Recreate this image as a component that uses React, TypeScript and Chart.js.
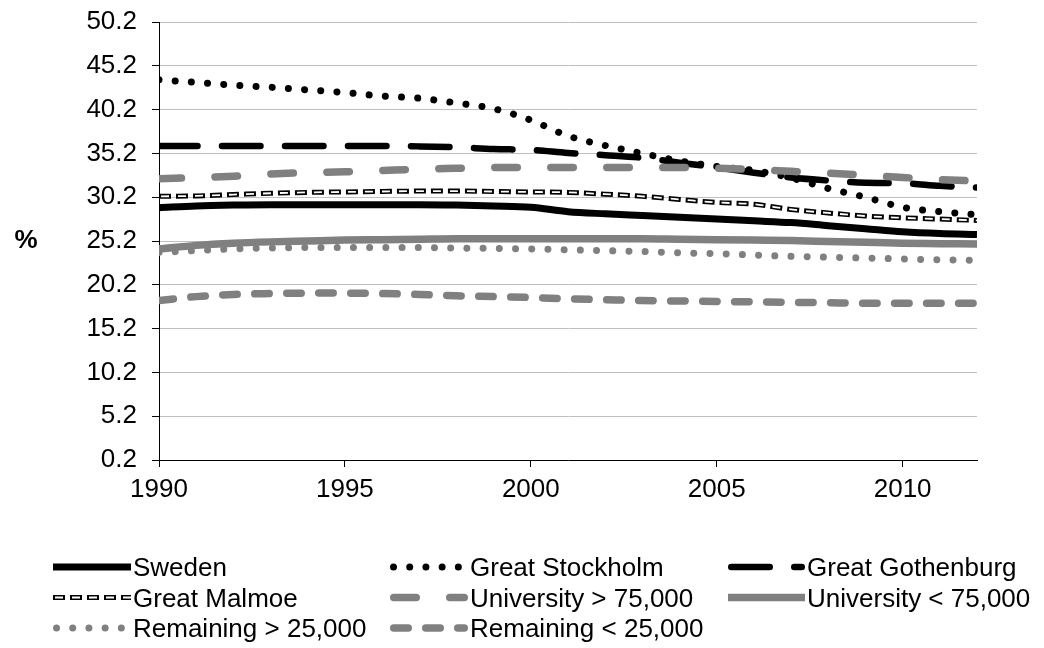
import React, { useEffect, useRef } from 'react';
import Chart from 'chart.js/auto';

const years = [1990, 1991, 1992, 1993, 1994, 1995, 1996, 1997, 1998, 1999, 2000, 2001, 2002, 2003, 2004, 2005, 2006, 2007, 2008, 2009, 2010, 2011, 2012];

const sweden = [29.0, 29.2, 29.3, 29.35, 29.35, 29.35, 29.35, 29.35, 29.3, 29.2, 29.05, 28.55, 28.3, 28.1, 27.9, 27.7, 27.5, 27.3, 26.95, 26.6, 26.25, 26.05, 25.95];
const stockholm = [43.6, 43.3, 43.0, 42.75, 42.45, 42.15, 41.75, 41.5, 40.95, 40.3, 39.0, 37.2, 36.1, 35.2, 34.35, 33.7, 33.25, 32.4, 31.2, 30.2, 29.05, 28.55, 28.2];
const gothenburg = [36.05, 36.05, 36.05, 36.05, 36.05, 36.05, 36.05, 36.0, 35.9, 35.7, 35.6, 35.25, 35.0, 34.7, 34.15, 33.6, 33.0, 32.45, 32.1, 31.85, 31.8, 31.5, 31.3];
const malmoe = [30.3, 30.35, 30.5, 30.65, 30.75, 30.8, 30.85, 30.9, 30.9, 30.85, 30.8, 30.75, 30.55, 30.3, 29.95, 29.6, 29.4, 28.8, 28.4, 28.05, 27.85, 27.7, 27.55];
const universityLarge = [32.3, 32.45, 32.6, 32.85, 33.0, 33.1, 33.25, 33.4, 33.5, 33.6, 33.6, 33.6, 33.6, 33.6, 33.6, 33.5, 33.35, 33.15, 32.95, 32.7, 32.45, 32.2, 32.05];
const universitySmall = [24.3, 24.7, 24.95, 25.1, 25.2, 25.3, 25.35, 25.4, 25.45, 25.45, 25.45, 25.45, 25.45, 25.45, 25.4, 25.35, 25.3, 25.25, 25.15, 25.05, 24.95, 24.9, 24.85];
const remainingLarge = [23.9, 24.1, 24.3, 24.4, 24.45, 24.45, 24.45, 24.45, 24.4, 24.35, 24.3, 24.2, 24.1, 24.0, 23.85, 23.75, 23.6, 23.45, 23.35, 23.25, 23.15, 23.05, 23.0];
const remainingSmall = [18.4, 18.85, 19.1, 19.2, 19.25, 19.25, 19.2, 19.1, 18.95, 18.85, 18.75, 18.6, 18.5, 18.4, 18.35, 18.3, 18.25, 18.2, 18.15, 18.1, 18.1, 18.1, 18.1];

const seriesNames = ['Sweden', 'Great Stockholm', 'Great Gothenburg', 'Great Malmoe', 'University > 75,000', 'University < 75,000', 'Remaining > 25,000', 'Remaining < 25,000'];
const xTickValues = [1990, 1995, 2000, 2005, 2010];
const yTickValues = [0.2, 5.2, 10.2, 15.2, 20.2, 25.2, 30.2, 35.2, 40.2, 45.2, 50.2];
const yAxisTitle = '%';

type LineStyle = { color: string; width: number; dash: number[]; cap: CanvasLineCap; offset?: number };
type SeriesStyle = LineStyle & { inner?: LineStyle };

const BLACK = '#000000';
const GRAY = '#808080';
const styles: SeriesStyle[] = [
  { color: BLACK, width: 7, dash: [], cap: 'butt' },
  { color: BLACK, width: 7, dash: [0.01, 16.2], cap: 'round' },
  { color: BLACK, width: 6.5, dash: [38.5, 24.5], cap: 'round' },
  { color: BLACK, width: 5, dash: [12, 5], cap: 'butt', inner: { color: '#ffffff', width: 1.8, dash: [8, 9], cap: 'butt', offset: -2 } },
  { color: GRAY, width: 7.5, dash: [22.5, 33.5], cap: 'round' },
  { color: GRAY, width: 7.5, dash: [], cap: 'butt' },
  { color: GRAY, width: 7, dash: [0.01, 16.2], cap: 'round' },
  { color: GRAY, width: 7.5, dash: [14.5, 17.5], cap: 'round' },
];

const FONT = '"Liberation Sans", Arial, sans-serif';
const legendSampleX = [53, 390, 728];
const legendTextX = [133, 470, 807];
const legendRowY = [567, 597.5, 628];

function strokeSample(ctx: CanvasRenderingContext2D, st: LineStyle, x0: number, x1: number, y: number) {
  ctx.save();
  ctx.strokeStyle = st.color;
  ctx.lineWidth = st.width;
  ctx.lineCap = st.cap;
  ctx.setLineDash(st.dash);
  ctx.lineDashOffset = st.offset || 0;
  ctx.beginPath();
  ctx.moveTo(x0, y);
  ctx.lineTo(x1, y);
  ctx.stroke();
  ctx.restore();
}

const gridLegendPlugin = {
  id: 'gridLegend',
  afterDraw(chart: any) {
    const ctx: CanvasRenderingContext2D = chart.ctx;
    ctx.save();
    seriesNames.forEach((name, i) => {
      const col = i % 3;
      const row = Math.floor(i / 3);
      const st = styles[i];
      const y = legendRowY[row];
      const x0 = legendSampleX[col] + (st.cap === 'round' ? st.width / 2 : 0);
      const x1 = legendTextX[col] - 2 - (st.cap === 'round' ? st.width / 2 : 0);
      strokeSample(ctx, st, x0, x1, y);
      if (st.inner) strokeSample(ctx, st.inner, x0, x1, y);
      ctx.fillStyle = '#000';
      ctx.font = `26px ${FONT}`;
      ctx.textAlign = 'left';
      ctx.textBaseline = 'alphabetic';
      ctx.fillText(name, legendTextX[col], y + 9.3);
    });
    ctx.font = `bold 26px ${FONT}`;
    ctx.textAlign = 'center';
    ctx.textBaseline = 'middle';
    ctx.fillStyle = '#000';
    ctx.fillText(yAxisTitle, 26, 241);
    ctx.restore();
  },
};

export default function App() {
  const ref = useRef<HTMLCanvasElement>(null);
  useEffect(() => {
    if (!ref.current) return;
    const seriesValues = [sweden, stockholm, gothenburg, malmoe, universityLarge, universitySmall, remainingLarge, remainingSmall];
    const datasets: any[] = [];
    seriesValues.forEach((vals, i) => {
      const st = styles[i];
      const base = {
        data: vals.map((v, j) => ({ x: years[j], y: v })),
        pointRadius: 0,
        pointHoverRadius: 0,
        fill: false,
        cubicInterpolationMode: 'monotone',
        borderJoinStyle: 'round',
      };
      datasets.push({
        ...base,
        label: seriesNames[i],
        borderColor: st.color,
        borderWidth: st.width,
        borderDash: st.dash,
        borderDashOffset: st.offset || 0,
        borderCapStyle: st.cap,
        order: 100 - i * 2,
      });
      if (st.inner) {
        datasets.push({
          ...base,
          label: seriesNames[i] + ' (inner)',
          borderColor: st.inner.color,
          borderWidth: st.inner.width,
          borderDash: st.inner.dash,
          borderDashOffset: st.inner.offset || 0,
          borderCapStyle: st.inner.cap,
          order: 100 - i * 2 - 1,
        });
      }
    });

    const chart = new Chart(ref.current, {
      type: 'line',
      data: { datasets },
      plugins: [gridLegendPlugin],
      options: {
        animation: false,
        responsive: false,
        maintainAspectRatio: false,
        layout: { padding: { top: 22, right: 67, bottom: 138, left: 0 } },
        plugins: { legend: { display: false }, tooltip: { enabled: false } },
        scales: {
          x: {
            type: 'linear',
            min: 1990,
            max: 2012,
            afterBuildTicks: (axis: any) => {
              axis.ticks = xTickValues.map((v) => ({ value: v }));
            },
            afterFit: (scale: any) => {
              scale.height = 50;
              scale.paddingLeft = 0;
              scale.paddingRight = 0;
            },
            ticks: {
              callback: (v: any) => String(v),
              color: '#000',
              font: { family: FONT, size: 26 },
              padding: 7,
              maxRotation: 0,
              autoSkip: false,
            },
            grid: { drawOnChartArea: false, drawTicks: true, tickLength: 7, tickColor: '#000' },
            border: { color: '#000', width: 1 },
          },
          y: {
            type: 'linear',
            min: 0.2,
            max: 50.2,
            afterBuildTicks: (axis: any) => {
              axis.ticks = yTickValues.map((v) => ({ value: v }));
            },
            afterFit: (scale: any) => {
              scale.width = 159;
              scale.paddingTop = 0;
              scale.paddingBottom = 0;
            },
            ticks: {
              callback: (v: any) => Number(v).toFixed(1),
              color: '#000',
              font: { family: FONT, size: 26 },
              padding: 15,
              autoSkip: false,
            },
            grid: { color: '#c0c0c0', lineWidth: 1, tickLength: 7, tickColor: '#000' },
            border: { color: '#000', width: 1 },
          },
        },
      },
    } as any);
    return () => chart.destroy();
  }, []);

  return (
    <canvas
      ref={ref}
      width={1044}
      height={648}
      style={{ position: 'fixed', left: 0, top: 0, width: 1044, height: 648, display: 'block', background: '#fff' }}
    />
  );
}
